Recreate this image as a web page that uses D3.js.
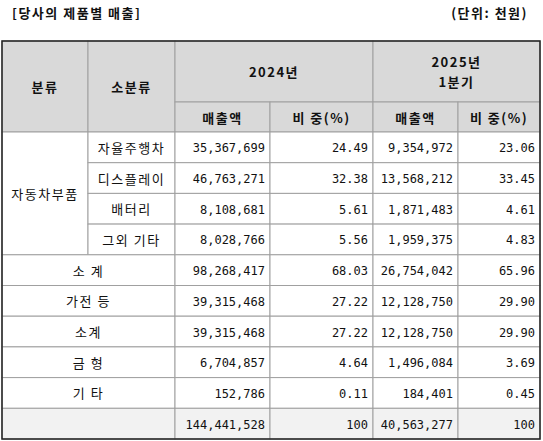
<!DOCTYPE html>
<html>
<head>
<meta charset="utf-8">
<script src="https://d3js.org/d3.v7.min.js"></script>
<style>
  body { margin: 0; background: #fff; }
  text { font-family: "Noto Sans CJK KR", "DejaVu Sans Mono", sans-serif; font-size: 13px; fill: #111; letter-spacing: 1.5px; }
  .hd { font-weight: bold; }
  .num { font-family: "DejaVu Sans Mono", "Noto Sans CJK KR", monospace; font-size: 12px; letter-spacing: 0; }
</style>
</head>
<body>
<svg width="543" height="441"></svg>
<script>
// 데이터
var subNames = ['자율주행차', '디스플레이', '배터리', '그외 기타']
var rowLabels = ['소 계', '가전 등', '소계', '금 형', '기  타']
var sales2024 = ['35,367,699', '46,763,271', '8,108,681', '8,028,766', '98,268,417', '39,315,468', '39,315,468', '6,704,857', '152,786', '144,441,528']
var share2024 = ['24.49', '32.38', '5.61', '5.56', '68.03', '27.22', '27.22', '4.64', '0.11', '100']
var sales2025 = ['9,354,972', '13,568,212', '1,871,483', '1,959,375', '26,754,042', '12,128,750', '12,128,750', '1,496,084', '184,401', '40,563,277']
var share2025 = ['23.06', '33.45', '4.61', '4.83', '65.96', '29.90', '29.90', '3.69', '0.45', '100']

var svg = d3.select('svg')
var colX = [2, 88, 175, 270, 373, 458, 540]
var y0 = 41, y1 = 102, y2 = 132
var rowY = d3.scaleLinear().domain([0, 10]).range([y2, 439])
var line = '#a0a0a0'

function cell(x0, x1, ya, yb, fill) {
  svg.append('rect').attr('x', x0).attr('y', ya).attr('width', x1 - x0).attr('height', yb - ya)
    .attr('fill', fill || '#fff').attr('stroke', line).attr('stroke-width', 1)
}
function txt(x, y, s, anchor, cls) {
  svg.append('text').attr('x', x).attr('y', y).attr('text-anchor', anchor || 'middle')
    .attr('dominant-baseline', 'central').attr('class', cls || '').text(s)
}

svg.append('text').attr('x', 12).attr('y', 18).attr('class', 'hd').text('[당사의 제품별 매출]')
svg.append('text').attr('x', 528).attr('y', 18).attr('class', 'hd').attr('text-anchor', 'end').text('(단위: 천원)')

// header
var hg = '#d9d9d9'
cell(colX[0], colX[1], y0, y2, hg); txt((colX[0] + colX[1]) / 2, (y0 + y2) / 2, '분류', 'middle', 'hd')
cell(colX[1], colX[2], y0, y2, hg); txt((colX[1] + colX[2]) / 2, (y0 + y2) / 2, '소분류', 'middle', 'hd')
cell(colX[2], colX[4], y0, y1, hg); txt((colX[2] + colX[4]) / 2, (y0 + y1) / 2, '2024년', 'middle', 'hd')
cell(colX[4], colX[6], y0, y1, hg)
txt((colX[4] + colX[6]) / 2, y0 + 20, '2025년', 'middle', 'hd')
txt((colX[4] + colX[6]) / 2, y0 + 40, '1분기', 'middle', 'hd')
var subHd = ['매출액', '비 중(%)', '매출액', '비 중(%)']
subHd.forEach(function(s, i) {
  cell(colX[i + 2], colX[i + 3], y1, y2, hg)
  txt((colX[i + 2] + colX[i + 3]) / 2, (y1 + y2) / 2, s, 'middle', 'hd')
})

// body
cell(colX[0], colX[1], rowY(0), rowY(4))
txt((colX[0] + colX[1]) / 2, (rowY(0) + rowY(4)) / 2, '자동차부품')
subNames.forEach(function(s, i) {
  cell(colX[1], colX[2], rowY(i), rowY(i + 1))
  txt((colX[1] + colX[2]) / 2, (rowY(i) + rowY(i + 1)) / 2, s)
})
rowLabels.forEach(function(s, i) {
  cell(colX[0], colX[2], rowY(i + 4), rowY(i + 5))
  txt((colX[0] + colX[2]) / 2, (rowY(i + 4) + rowY(i + 5)) / 2, s)
})
cell(colX[0], colX[2], rowY(9), rowY(10), '#f2f2f2')
var cols = [sales2024, share2024, sales2025, share2025]
cols.forEach(function(arr, c) {
  arr.forEach(function(v, r) {
    cell(colX[c + 2], colX[c + 3], rowY(r), rowY(r + 1), r === 9 ? '#f2f2f2' : '#fff')
    txt(colX[c + 3] - 5, (rowY(r) + rowY(r + 1)) / 2 + 1, v, 'end', 'num')
  })
})
// outer border
svg.append('rect').attr('x', colX[0]).attr('y', y0).attr('width', colX[6] - colX[0]).attr('height', 439 - y0)
  .attr('fill', 'none').attr('stroke', '#222').attr('stroke-width', 1.5)
</script>
</body>
</html>
